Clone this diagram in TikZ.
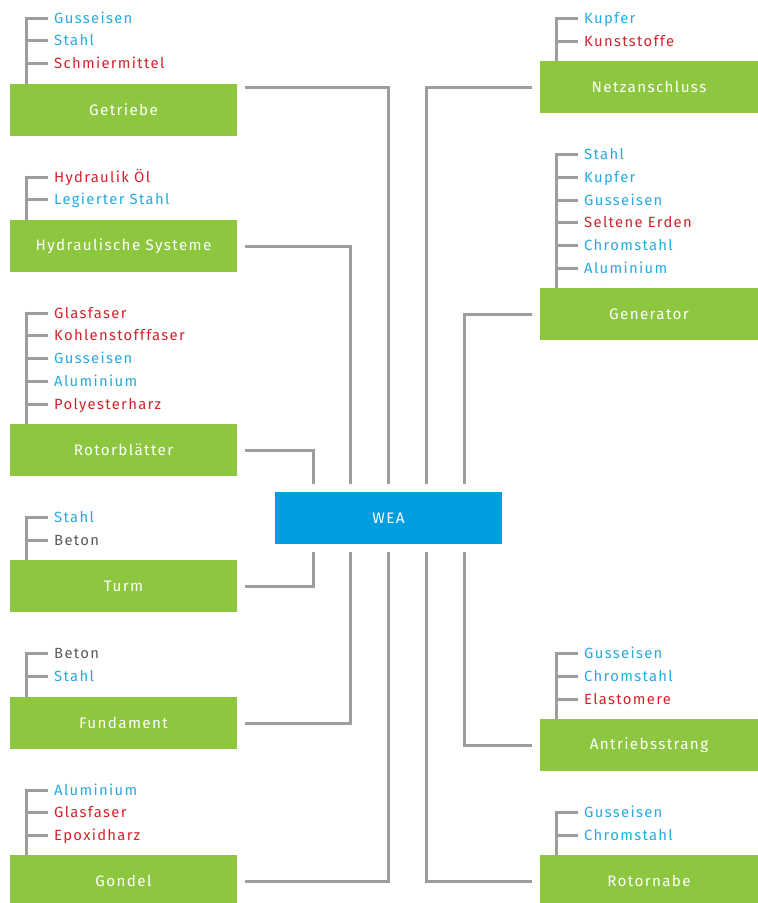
\documentclass[tikz,border=0pt]{standalone}
\usepackage{fontspec}
\setmainfont[LetterSpace=9,Ligatures=CommonOff]{Fira Sans}
\usepackage{xcolor}
\usepackage{tikz}
\definecolor{boxgreen}{HTML}{8DC63F}
\definecolor{weablue}{HTML}{009EDF}
\definecolor{matblue}{HTML}{27AAE1}
\definecolor{matred}{HTML}{D2232A}
\definecolor{matgray}{HTML}{58595B}
\definecolor{linegray}{HTML}{9D9D9F}
\tikzset{
  part/.style={fill=boxgreen, text=white, minimum width=227pt, minimum height=52pt, inner sep=0pt, font=\fontsize{15.2}{18}\selectfont},
  partR/.style={part, minimum width=218pt},
  core/.style={fill=weablue, text=white, minimum width=227pt, minimum height=52pt, inner sep=0pt, font=\fontsize{15.2}{18}\selectfont},
  mat/.style={anchor=west, inner sep=0pt, text height=11pt, text depth=0pt, font=\fontsize{14.8}{17}\selectfont},
  link/.style={draw=linegray, line width=3pt},
  brk/.style={draw=linegray, line width=3pt},
}
\begin{document}
\begin{tikzpicture}[x=1pt, y=-1pt]
\useasboundingbox (0,0) rectangle (758,903);
% centre
\node[core] (wea) at (388.5,518) {WEA};
% left parts
\node[part] (getriebe)   at (123.5,110) {Getriebe};
\node[part] (hydraulik)  at (123.5,246) {Hydraulische Systeme};
\node[part] (rotorblatt) at (123.5,450) {Rotorblätter};
\node[part] (turm)       at (123.5,586) {Turm};
\node[part] (fundament)  at (123.5,723) {Fundament};
\node[part] (gondel)     at (123.5,881) {Gondel};
% right parts
\node[partR] (netz)      at (649,87)  {Netzanschluss};
\node[partR] (generator) at (649,314) {Generator};
\node[partR] (antrieb)   at (649,745) {Antriebsstrang};
\node[partR] (rotornabe) at (649,881) {Rotornabe};
% links to WEA
\draw[link] ([xshift=8pt]getriebe.east |- netz.west) -| ([yshift=8pt]wea.north);
\draw[link] ([xshift=8pt]hydraulik.east) -| ([xshift=-38pt,yshift=8pt]wea.north);
\draw[link] ([xshift=8pt]rotorblatt.east) -| ([xshift=-75.5pt,yshift=8pt]wea.north);
\draw[link] ([xshift=8pt]turm.east) -| ([xshift=-75.5pt,yshift=-8pt]wea.south);
\draw[link] ([xshift=8pt]fundament.east) -| ([xshift=-38pt,yshift=-8pt]wea.south);
\draw[link] ([xshift=8pt]gondel.east |- rotornabe.west) -| ([yshift=-8pt]wea.south);
\draw[link] ([xshift=-8pt]netz.west) -| ([xshift=38pt,yshift=8pt]wea.north);
\draw[link] ([xshift=-8pt]generator.west) -| ([xshift=75.5pt,yshift=8pt]wea.north);
\draw[link] ([xshift=-8pt]antrieb.west) -| ([xshift=75.5pt,yshift=-8pt]wea.south);
\draw[link] ([xshift=-8pt]rotornabe.west) -| ([xshift=38pt,yshift=-8pt]wea.south);
% materials: Getriebe
\foreach \y/\txt/\col [count=\i] in {18/Gusseisen/matblue, 40/Stahl/matblue, 63/Schmiermittel/matred}{
  \node[mat, text=\col] (get\i) at (54,\y) {\txt};
  \draw[brk] ([xshift=-6pt]get\i.west) -- ++(-22,0);
}
\draw[brk] ([xshift=-28pt,yshift=1.5pt]get1.west) -- ([xshift=-28pt]get1.west |- getriebe.north);
% materials: Hydraulische Systeme
\foreach \y/\txt/\col [count=\i] in {177/Hydraulik Öl/matred, 199/Legierter Stahl/matblue}{
  \node[mat, text=\col] (hyd\i) at (54,\y) {\txt};
  \draw[brk] ([xshift=-6pt]hyd\i.west) -- ++(-22,0);
}
\draw[brk] ([xshift=-28pt,yshift=1.5pt]hyd1.west) -- ([xshift=-28pt]hyd1.west |- hydraulik.north);
% materials: Rotorblaetter
\foreach \y/\txt/\col [count=\i] in {313/Glasfaser/matred, 335/Kohlenstofffaser/matred, 358/Gusseisen/matblue, 381/Aluminium/matblue, 404/Polyesterharz/matred}{
  \node[mat, text=\col] (rot\i) at (54,\y) {\txt};
  \draw[brk] ([xshift=-6pt]rot\i.west) -- ++(-22,0);
}
\draw[brk] ([xshift=-28pt,yshift=1.5pt]rot1.west) -- ([xshift=-28pt]rot1.west |- rotorblatt.north);
% materials: Turm
\foreach \y/\txt/\col [count=\i] in {517/Stahl/matblue, 540/Beton/matgray}{
  \node[mat, text=\col] (tur\i) at (54,\y) {\txt};
  \draw[brk] ([xshift=-6pt]tur\i.west) -- ++(-22,0);
}
\draw[brk] ([xshift=-28pt,yshift=1.5pt]tur1.west) -- ([xshift=-28pt]tur1.west |- turm.north);
% materials: Fundament
\foreach \y/\txt/\col [count=\i] in {653/Beton/matgray, 676/Stahl/matblue}{
  \node[mat, text=\col] (fun\i) at (54,\y) {\txt};
  \draw[brk] ([xshift=-6pt]fun\i.west) -- ++(-22,0);
}
\draw[brk] ([xshift=-28pt,yshift=1.5pt]fun1.west) -- ([xshift=-28pt]fun1.west |- fundament.north);
% materials: Gondel
\foreach \y/\txt/\col [count=\i] in {790/Aluminium/matblue, 812/Glasfaser/matred, 835/Epoxidharz/matred}{
  \node[mat, text=\col] (gon\i) at (54,\y) {\txt};
  \draw[brk] ([xshift=-6pt]gon\i.west) -- ++(-22,0);
}
\draw[brk] ([xshift=-28pt,yshift=1.5pt]gon1.west) -- ([xshift=-28pt]gon1.west |- gondel.north);
% materials: Netzanschluss
\foreach \y/\txt/\col [count=\i] in {18/Kupfer/matblue, 41/Kunststoffe/matred}{
  \node[mat, text=\col] (net\i) at (584,\y) {\txt};
  \draw[brk] ([xshift=-6pt]net\i.west) -- ++(-22,0);
}
\draw[brk] ([xshift=-28pt,yshift=1.5pt]net1.west) -- ([xshift=-28pt]net1.west |- netz.north);
% materials: Generator
\foreach \y/\txt/\col [count=\i] in {154/Stahl/matblue, 177/Kupfer/matblue, 200/Gusseisen/matblue, 222/Seltene Erden/matred, 245/Chromstahl/matblue, 268/Aluminium/matblue}{
  \node[mat, text=\col] (gen\i) at (584,\y) {\txt};
  \draw[brk] ([xshift=-6pt]gen\i.west) -- ++(-22,0);
}
\draw[brk] ([xshift=-28pt,yshift=1.5pt]gen1.west) -- ([xshift=-28pt]gen1.west |- generator.north);
% materials: Antriebsstrang
\foreach \y/\txt/\col [count=\i] in {653/Gusseisen/matblue, 676/Chromstahl/matblue, 699/Elastomere/matred}{
  \node[mat, text=\col] (ant\i) at (584,\y) {\txt};
  \draw[brk] ([xshift=-6pt]ant\i.west) -- ++(-22,0);
}
\draw[brk] ([xshift=-28pt,yshift=1.5pt]ant1.west) -- ([xshift=-28pt]ant1.west |- antrieb.north);
% materials: Rotornabe
\foreach \y/\txt/\col [count=\i] in {812/Gusseisen/matblue, 835/Chromstahl/matblue}{
  \node[mat, text=\col] (nab\i) at (584,\y) {\txt};
  \draw[brk] ([xshift=-6pt]nab\i.west) -- ++(-22,0);
}
\draw[brk] ([xshift=-28pt,yshift=1.5pt]nab1.west) -- ([xshift=-28pt]nab1.west |- rotornabe.north);
\end{tikzpicture}
\end{document}
